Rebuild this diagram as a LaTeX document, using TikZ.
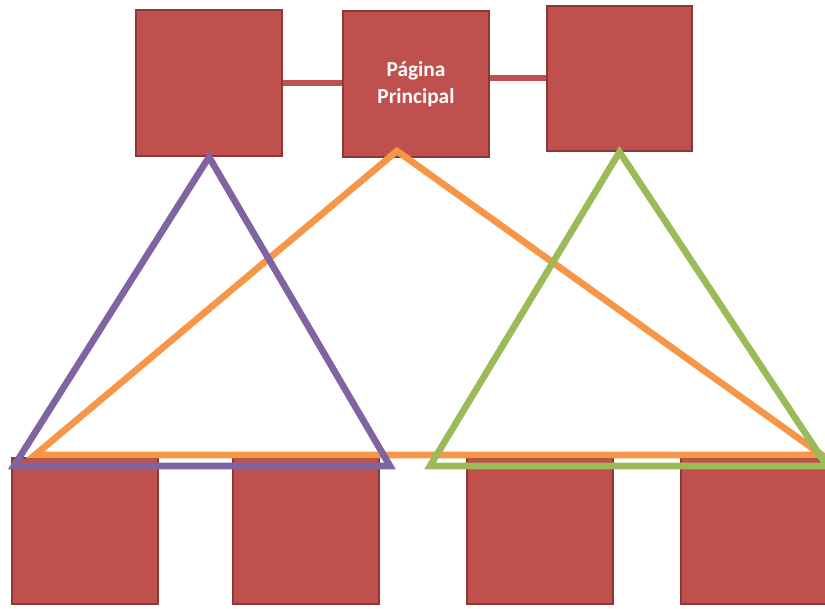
\documentclass[tikz,border=0pt]{standalone}
\usepackage{fontspec}
\setmainfont{Carlito}

\definecolor{boxred}{RGB}{192,80,77}
\definecolor{boxedge}{RGB}{140,56,54}
\definecolor{trpurple}{RGB}{128,100,162}
\definecolor{trorange}{RGB}{247,150,70}
\definecolor{trgreen}{RGB}{155,187,89}

\tikzset{every picture/.style={line width=0.75pt}}
\tikzset{
  pagebox/.style={draw=boxedge, fill=boxred, line width=1.5pt, minimum width=109.5pt, minimum height=109.5pt, inner sep=0pt, text=white, align=center, font=\fontsize{16}{20}\selectfont\bfseries},
  link/.style={draw=boxred, line width=4.5pt},
  tri/.style={line width=5pt, line join=miter}
}

\begin{document}
\begin{tikzpicture}[x=0.75pt,y=0.75pt,yscale=-1,xscale=1]
\useasboundingbox (0,0) rectangle (825,609);

% top row
\node [pagebox] (left) at (209,83) {};
\node [pagebox] (home) at (416,84) {Página\\Principal};
\node [pagebox, minimum width=108.75pt, minimum height=108.75pt] (right) at (619.5,78.5) {};

% links between top boxes
\draw [link] (left.east) -- (home.west |- left.east);
\draw [link] (home.east |- right.west) -- (right.west);

% bottom row
\node [pagebox] (sub1) at (85,531) {};
\node [pagebox] (sub2) at (306,531) {};
\node [pagebox] (sub3) at (540,531) {};
\node [pagebox] (sub4) at (754,531) {};

% triangle corners
\coordinate (pl) at (14,466);
\coordinate (pr) at (390,466);
\coordinate (otop) at (397,151);
\coordinate (ol) at (35,455);
\coordinate (or) at (822,455);
\coordinate (gl) at (430,466);
\coordinate (gr) at (827,466);

% triangles
\draw [tri, trorange] (otop) -- (ol) -- (or) -- cycle;
\draw [tri, trpurple] (left.south) -- (pl) -- (pr) -- cycle;
\draw [tri, trgreen] (right.south) -- (gl) -- (gr) -- cycle;

\end{tikzpicture}
\end{document}
